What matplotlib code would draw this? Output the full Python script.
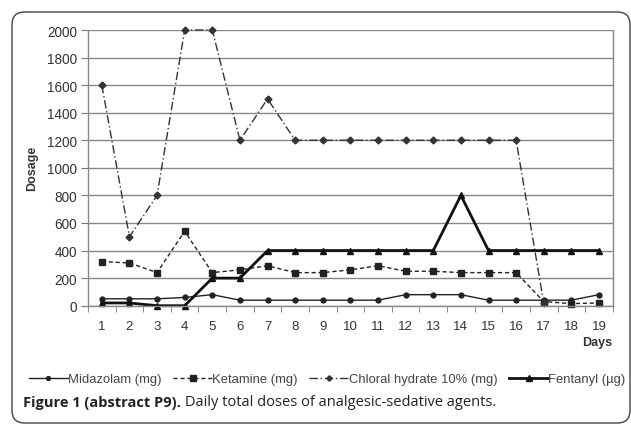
import numpy as np
import matplotlib
matplotlib.use("Agg")
import matplotlib.pyplot as plt
from matplotlib.patches import FancyBboxPatch

days = list(range(1, 20))
midazolam = [50, 50, 50, 60, 80, 40, 40, 40, 40, 40, 40, 80, 80, 80, 40, 40, 40, 40, 80]
ketamine = [320, 310, 240, 540, 240, 260, 290, 240, 240, 260, 290, 250, 250, 240, 240, 240, 30, 15, 20]
chloral = [1600, 500, 800, 2000, 2000, 1200, 1500, 1200, 1200, 1200, 1200, 1200, 1200, 1200, 1200, 1200, 20, np.nan, np.nan]
fentanyl = [20, 20, 0, 0, 200, 200, 400, 400, 400, 400, 400, 400, 400, 800, 400, 400, 400, 400, 400]
yticks = list(range(0, 2001, 200))
labels = ["Midazolam (mg)", "Ketamine (mg)", "Chloral hydrate 10% (mg)", "Fentanyl (\u00b5g)"]

plt.rcParams['font.family'] = ['Liberation Sans', 'DejaVu Sans']
W, H = 631, 427
fig = plt.figure(figsize=(W / 100, H / 100), dpi=100)

# rounded frame
box = FancyBboxPatch((12 / W, 3 / H), (630 - 12) / W, (419 - 8) / H,
                     boxstyle="round,pad=0,rounding_size=0.02",
                     transform=fig.transFigure, fill=False, ec="#444444", lw=1.0,
                     mutation_aspect=W / H)
fig.patches.append(box)

ax = fig.add_axes([88 / W, 1 - 306.7 / H, (612.8 - 88) / W, (306.7 - 31) / H])
ax.set_xlim(0.5, 19.5)
ax.set_ylim(0, 2000)

ax.plot(days, midazolam, color="#222222", lw=1.0, marker="o", ms=3.5, label=labels[0], clip_on=False)
ax.plot(days, ketamine, color="#222222", lw=1.0, ls=(0, (3, 2)), marker="s", ms=5, label=labels[1], clip_on=False)
ax.plot(days, chloral, color="#333333", lw=1.0, ls=(0, (6, 2, 1, 2)), marker="D", ms=3.5, label=labels[2], clip_on=False)
ax.plot(days, fentanyl, color="#111111", lw=2.0, marker="^", ms=5, label=labels[3], clip_on=False)

ax.set_yticks(yticks)
ax.set_yticklabels([str(v) for v in yticks], fontsize=9.8, color="#333333")
ax.yaxis.grid(True, color="#888888", lw=1.0)
ax.set_axisbelow(True)
ax.set_xticks(days)
ax.set_xticklabels([str(d) for d in days], fontsize=9.5, color="#333333")
ax.tick_params(axis="x", which="major", length=0, pad=10)
ax.set_xticks([d + 0.5 for d in range(0, 20)], minor=True)
ax.tick_params(axis="x", which="minor", length=4, color="#777777", direction="out")
ax.tick_params(axis="y", length=5, color="#777777", pad=3)
for s in ["left", "bottom", "right"]:
    ax.spines[s].set_color("#888888")
    ax.spines[s].set_linewidth(1.0)
ax.spines["top"].set_visible(False)

ax.set_ylabel("Dosage", fontsize=9, fontweight="bold", color="#333333", labelpad=6)
fig.text(612 / W, 1 - 343 / H, "Days", fontsize=9, fontweight="bold", color="#333333",
         ha="right", va="center")

leg = fig.legend(loc="center", bbox_to_anchor=(327 / W, 1 - 380 / H), ncol=4,
                 frameon=False, fontsize=9.4, handlelength=3.0, handletextpad=0.0,
                 columnspacing=0.9, labelcolor="#444444", markerscale=0.8)

t1 = fig.text(23 / W, 1 - 403 / H, "Figure 1 (abstract P9).", fontsize=10.5,
              fontweight="bold", family=["Open Sans", "DejaVu Sans"], color="#222222",
              va="center", ha="left")
fig.canvas.draw()
bb = t1.get_window_extent()
fig.text((bb.x1 + 4) / W, 1 - 403 / H, "Daily total doses of analgesic-sedative agents.",
         fontsize=10.5, family=["Open Sans", "DejaVu Sans"], color="#222222",
         va="center", ha="left")

fig.savefig("out.png", dpi=100)
